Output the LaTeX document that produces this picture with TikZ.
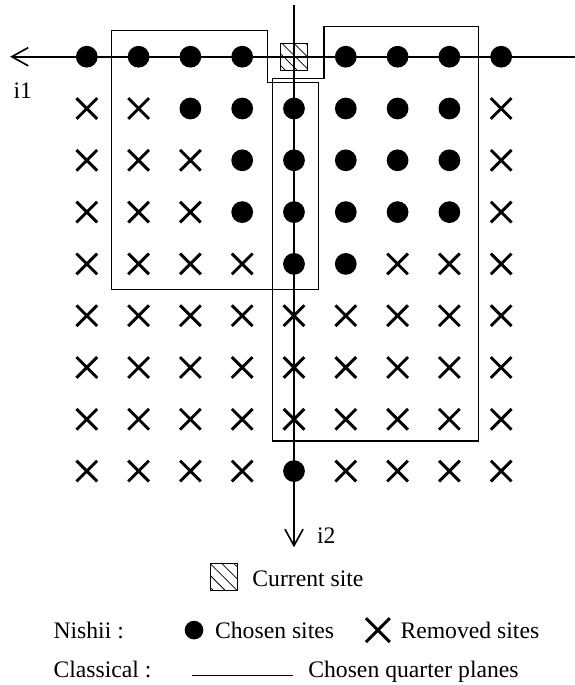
\documentclass[tikz,border=0pt]{standalone}
\usepackage{fontspec}
\setmainfont{Liberation Serif}
\usetikzlibrary{arrows.meta,patterns.meta}
\tikzset{
  removed/.pic={\draw[line width=1.6pt] (-0.2,-0.2)--(0.2,0.2) (-0.2,0.2)--(0.2,-0.2);},
  current/.style={draw, line width=0.5pt, pattern={Lines[angle=-45,distance=4.6pt,line width=0.4pt]}},
  quarter/.style={line width=0.6pt},
  axis/.style={line width=0.9pt, -{Straight Barb[length=9pt,width=10pt]}},
  lab/.style={anchor=base west, inner sep=0pt}
}
\begin{document}
\begin{tikzpicture}[font=\fontsize{13}{15}\selectfont, line join=miter]
\useasboundingbox (-5.676,-12.13) rectangle (5.425,1.095);
\path
(5.425,0) coordinate (E)
(-5.48,0) coordinate (W)
(0,1.0) coordinate (N)
(0,-9.47) coordinate (S)
(-1.97,-11.95) coordinate (L1)
(-0.02,-11.95) coordinate (L2)
;
% quarter planes
\draw[quarter] (-3.52,0.5)--(-0.52,0.5)--(-0.52,-0.5)--(0.47,-0.5)--(0.47,-4.5)--(-3.52,-4.5)--cycle;
\draw[quarter] (-0.42,-7.42)--(-0.42,-0.42)--(0.58,-0.42)--(0.58,0.58)--(3.57,0.58)--(3.57,-7.42)--cycle;
% chosen and removed sites
\foreach \j/\cols in {0/{-4,-3,-2,-1,1,2,3,4},1/{-2,...,3},2/{-1,...,3},3/{-1,...,3},4/{0,1},8/{0}}
  \foreach \i in \cols \fill (\i,-\j) circle (0.21);
\foreach \j/\cols in {1/{-4,-3,4},2/{-4,-3,-2,4},3/{-4,-3,-2,4},4/{-4,-3,-2,-1,2,3,4},5/{-4,...,4},6/{-4,...,4},7/{-4,...,4},8/{-4,-3,-2,-1,1,2,3,4}}
  \foreach \i in \cols \pic at (\i,-\j) {removed};
\draw[current] (-0.26,-0.26) rectangle (0.26,0.26);
% axes
\draw[axis] (E)--(W);
\draw[axis] (N)--(S);
\node[lab] (i1) at (-5.42,-0.80) {i1};
\node[lab] (i2) at (0.44,-9.39) {i2};
% legend
\draw[current] (-1.62,-10.30) rectangle (-1.10,-9.78);
\node[lab] (cur) at (-0.81,-10.22) {Current site};
\node[lab] (nishii) at (-4.65,-11.24) {Nishii :};
\fill (-1.93,-11.07) circle (0.18);
\node[lab] (chosen) at (-1.53,-11.24) {Chosen sites};
\pic[scale=1.15] at (1.62,-11.07) {removed};
\node[lab] (removed) at (2.05,-11.24) {Removed sites};
\node[lab] (classical) at (-4.65,-11.99) {Classical :};
\draw[quarter] (L1)--(L2);
\node[lab] (planes) at (0.27,-11.99) {Chosen quarter planes};
\end{tikzpicture}
\end{document}
